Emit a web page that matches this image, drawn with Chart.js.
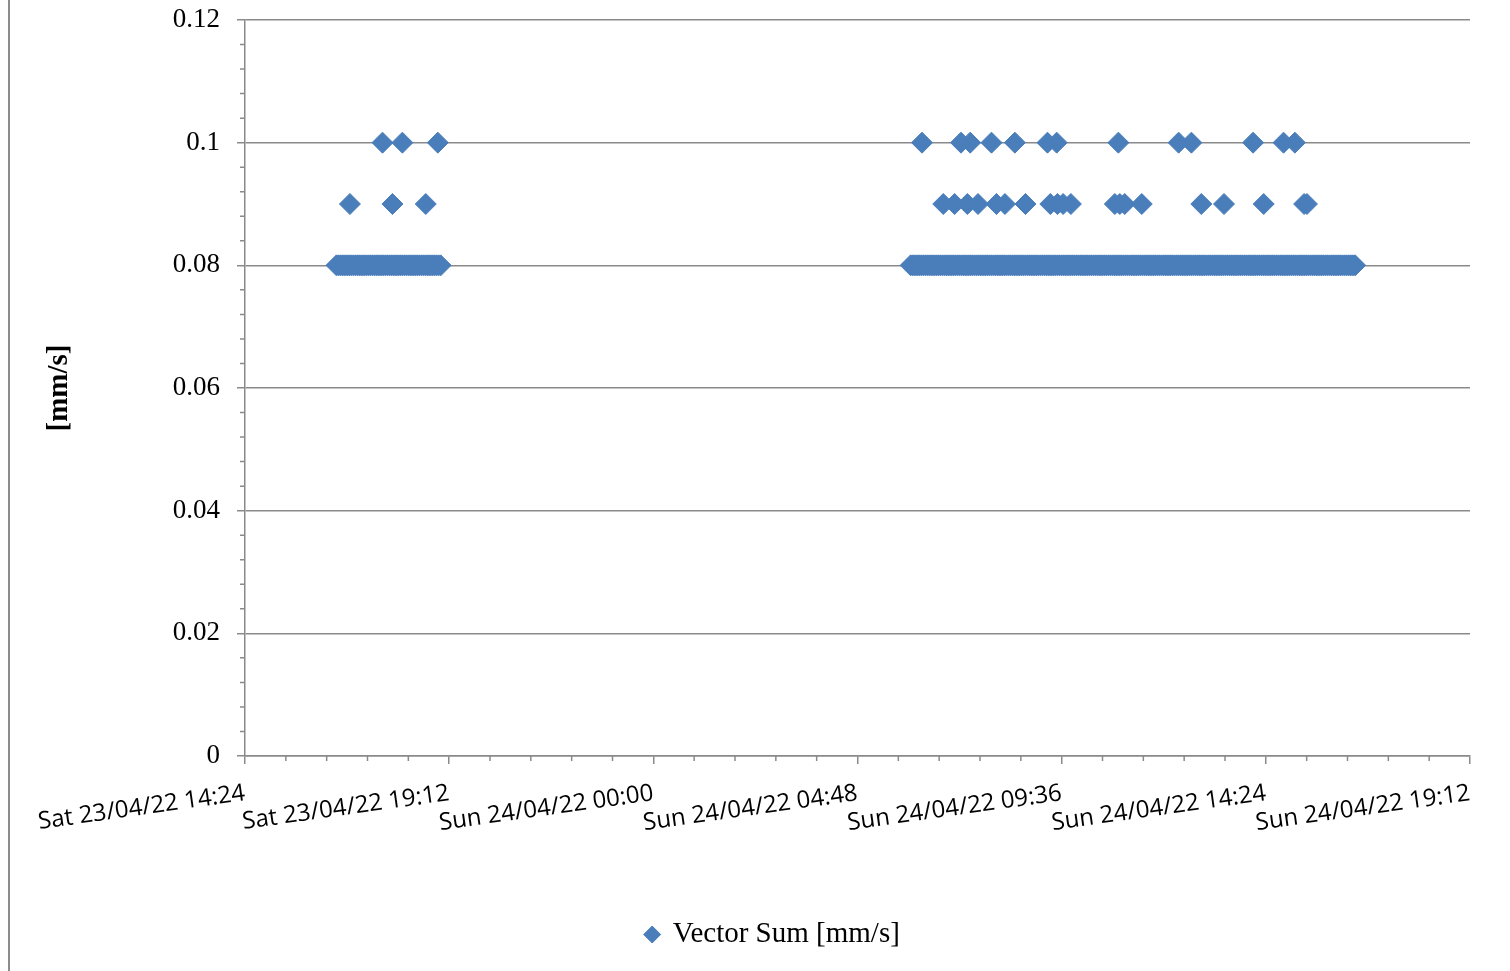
<!DOCTYPE html>
<html>
<head>
<meta charset="utf-8">
<title>Vector Sum</title>
<script src="https://cdn.jsdelivr.net/npm/chart.js@4.4.1/dist/chart.umd.min.js"></script>
<style>
  html, body { margin: 0; padding: 0; background: #fff; overflow: hidden; }
  #wrap { position: relative; width: 1510px; height: 971px; }
  #frame { position: absolute; left: 8px; top: 0; width: 2px; height: 971px; background: #8c8c8c; }
  #chart { position: absolute; left: 0; top: 0; }
</style>
</head>
<body>
<div id="wrap">
  <div id="frame"></div>
  <canvas id="chart" width="1510" height="971"></canvas>
</div>
<script>
'use strict';

/* DATA — times, one array per day and level */
const dayLabels = ['Sat 23/04/22', 'Sun 24/04/22'];
const levels = [0.08, 0.09, 0.1];

// Saturday, 0.08 mm/s run
const sat08 = [
  '16:33','16:36','16:39','16:42','16:45','16:48','16:51','16:54','16:57',
  '17:00','17:03','17:06','17:09','17:12','17:15','17:18','17:21','17:24','17:27','17:30',
  '17:33','17:36','17:39','17:42','17:45','17:48','17:51','17:54','17:57',
  '18:00','18:03','18:06','18:09','18:12','18:15','18:18','18:21','18:24','18:27','18:30',
  '18:33','18:36','18:39','18:42','18:45','18:48','18:51','18:54','18:57',
  '19:00'
];
const sat09 = ['16:52','17:52','18:39'];
const sat10 = ['17:38','18:06','18:56'];

// Sunday, 0.08 mm/s run
const sun08 = [
  '06:03','06:06','06:09','06:12','06:15','06:18','06:21','06:24','06:27','06:30','06:33','06:36','06:39','06:42','06:45','06:48','06:51','06:54','06:57',
  '07:00','07:03','07:06','07:09','07:12','07:15','07:18','07:21','07:24','07:27','07:30','07:33','07:36','07:39','07:42','07:45','07:48','07:51','07:54','07:57',
  '08:00','08:03','08:06','08:09','08:12','08:15','08:18','08:21','08:24','08:27','08:30','08:33','08:36','08:39','08:42','08:45','08:48','08:51','08:54','08:57',
  '09:00','09:03','09:06','09:09','09:12','09:15','09:18','09:21','09:24','09:27','09:30','09:33','09:36','09:39','09:42','09:45','09:48','09:51','09:54','09:57',
  '10:00','10:03','10:06','10:09','10:12','10:15','10:18','10:21','10:24','10:27','10:30','10:33','10:36','10:39','10:42','10:45','10:48','10:51','10:54','10:57',
  '11:00','11:03','11:06','11:09','11:12','11:15','11:18','11:21','11:24','11:27','11:30','11:33','11:36','11:39','11:42','11:45','11:48','11:51','11:54','11:57',
  '12:00','12:03','12:06','12:09','12:12','12:15','12:18','12:21','12:24','12:27','12:30','12:33','12:36','12:39','12:42','12:45','12:48','12:51','12:54','12:57',
  '13:00','13:03','13:06','13:09','13:12','13:15','13:18','13:21','13:24','13:27','13:30','13:33','13:36','13:39','13:42','13:45','13:48','13:51','13:54','13:57',
  '14:00','14:03','14:06','14:09','14:12','14:15','14:18','14:21','14:24','14:27','14:30','14:33','14:36','14:39','14:42','14:45','14:48','14:51','14:54','14:57',
  '15:00','15:03','15:06','15:09','15:12','15:15','15:18','15:21','15:24','15:27','15:30','15:33','15:36','15:39','15:42','15:45','15:48','15:51','15:54','15:57',
  '16:00','16:03','16:06','16:09','16:12','16:15','16:18','16:21','16:24','16:27','16:30'
];
const sun09 = ['06:49','07:05','07:23','07:38','08:04','08:16','08:45','09:20','09:30','09:38',
               '09:49','10:51','10:58','11:05','11:29','12:53','13:25','14:21','15:18','15:22'];
const sun10 = ['06:19','07:14','07:27','07:57','08:30','09:16','09:29','10:56','12:21','12:39',
               '14:06','14:49','15:05'];

// x axis: minutes from Sat 00:00, Sat 14:24 .. Sun 19:12 in 4.8 h steps
const X_MIN = 864, X_MAX = 2592, X_STEP = 288;
const Y_MIN = 0, Y_MAX = 0.12, Y_STEP = 0.02;

/* STYLE */
const BLUE = '#4a7ebb';
const AXIS = '#8a8a8a';
const SERIF = "'Liberation Serif', 'Times New Roman', serif";
const SANS = "'Open Sans', 'Liberation Sans', sans-serif";

const toX = (day, t) => day * 1440 + (+t.slice(0, 2)) * 60 + (+t.slice(3));
const pts = (day, times, v) => times.map(t => ({ x: toX(day, t), y: v }));

function fmtTime(v) {
  const d = Math.floor(v / 1440);
  const m = Math.round(v - d * 1440);
  return dayLabels[d] + ' ' + String(Math.floor(m / 60)).padStart(2, '0') + ':' + String(m % 60).padStart(2, '0');
}

const points = [].concat(
  pts(0, sat08, levels[0]), pts(0, sat09, levels[1]), pts(0, sat10, levels[2]),
  pts(1, sun08, levels[0]), pts(1, sun09, levels[1]), pts(1, sun10, levels[2])
);

/* minor tick marks, Excel style */
const minorTicks = {
  id: 'minorTicks',
  afterDraw(chart) {
    const { ctx, scales: { x, y }, chartArea: a } = chart;
    ctx.save();
    ctx.strokeStyle = AXIS;
    ctx.lineWidth = 1.5;
    ctx.beginPath();
    for (let i = 1; i < 30; i++) {
      if (i % 5 === 0) continue;
      const py = y.getPixelForValue(i * Y_STEP / 5);
      ctx.moveTo(a.left - 5, py); ctx.lineTo(a.left, py);
      const px = x.getPixelForValue(X_MIN + i * X_STEP / 5);
      ctx.moveTo(px, a.bottom); ctx.lineTo(px, a.bottom + 5);
    }
    ctx.stroke();
    ctx.restore();
  }
};

new Chart(document.getElementById('chart'), {
  type: 'scatter',
  data: {
    datasets: [{
      label: 'Vector Sum [mm/s]',
      data: points,
      pointStyle: 'rectRot',
      pointRadius: 10.5,
      pointHoverRadius: 10.5,
      backgroundColor: BLUE,
      borderColor: BLUE,
      borderWidth: 1
    }]
  },
  options: {
    responsive: false,
    animation: false,
    layout: { padding: { left: 36, right: 0, top: 20, bottom: 12 } },
    plugins: {
      tooltip: { enabled: false },
      legend: {
        position: 'bottom',
        labels: {
          usePointStyle: true,
          pointStyle: 'rectRot',
          boxWidth: 12,
          boxHeight: 12,
          padding: 10,
          color: '#000',
          font: { family: SERIF, size: 29 }
        }
      }
    },
    scales: {
      x: {
        type: 'linear',
        position: 'bottom',
        min: X_MIN,
        max: X_MAX,
        afterFit: s => { s.height = 154; },
        ticks: {
          stepSize: X_STEP,
          autoSkip: false,
          maxRotation: 8,
          minRotation: 8,
          padding: 15,
          color: '#000',
          font: { family: SANS, size: 24 },
          callback: v => fmtTime(v)
        },
        grid: { drawOnChartArea: false, drawTicks: true, tickLength: 8, color: AXIS, lineWidth: 1.5 },
        border: { color: AXIS, width: 1.5 }
      },
      y: {
        min: Y_MIN,
        max: Y_MAX,
        afterFit: s => { s.width = 209; s.paddingTop = 0; s.paddingBottom = 0; },
        ticks: {
          stepSize: Y_STEP,
          padding: 17,
          color: '#000',
          font: { family: SERIF, size: 27 },
          callback: v => String(+v.toFixed(2))
        },
        grid: { drawTicks: true, tickLength: 8, color: AXIS, lineWidth: 1.5 },
        border: { color: AXIS, width: 1.5 },
        title: {
          display: true,
          text: '[mm/s]',
          color: '#000',
          font: { family: SERIF, size: 29, weight: 'bold' },
          padding: { top: 6, bottom: 0 }
        }
      },
      yRight: {
        position: 'right',
        display: true,
        afterFit: s => { s.width = 40; },
        ticks: { display: false },
        grid: { display: false },
        border: { display: false }
      }
    }
  },
  plugins: [minorTicks]
});
</script>
</body>
</html>
